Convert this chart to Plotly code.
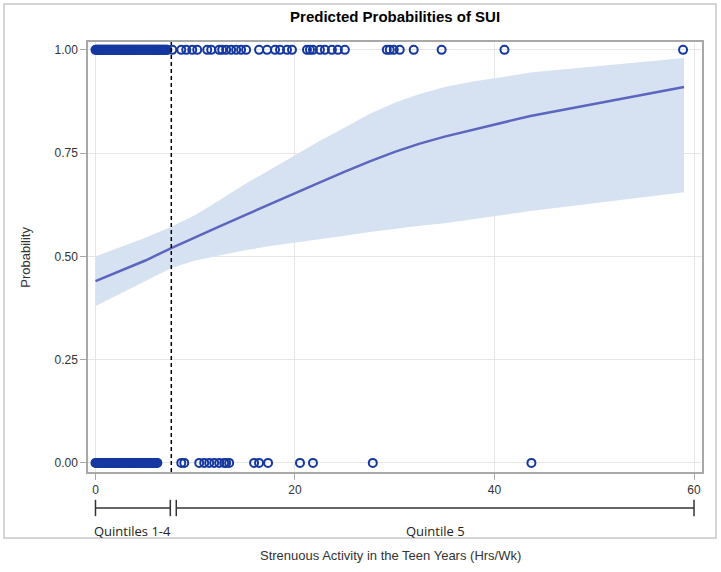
import plotly.graph_objects as go

# ---- data ----
curve_x = [0, 5, 7.6, 10, 12.5, 15, 17.5, 20, 22.5, 25, 27.5, 30, 32.5, 35, 38, 41, 43.6, 59]
curve_p = [0.44, 0.49, 0.52, 0.545, 0.573, 0.60, 0.627, 0.652, 0.679, 0.705, 0.730,
           0.753, 0.773, 0.79, 0.808, 0.825, 0.84, 0.91]
upper_p = [0.50, 0.545, 0.572, 0.60, 0.637, 0.675, 0.71, 0.745, 0.78, 0.812, 0.845,
           0.872, 0.893, 0.91, 0.924, 0.935, 0.945, 0.98]
lower_p = [0.38, 0.44, 0.472, 0.49, 0.503, 0.515, 0.525, 0.533, 0.542, 0.55, 0.559,
           0.567, 0.574, 0.58, 0.59, 0.60, 0.61, 0.655]

x_sui = [0, 0.1, 0.2, 0.3, 0.4, 0.5, 0.6, 0.7, 0.8, 0.9, 1.0, 1.1, 1.2, 1.3, 1.4, 1.5,
         1.6, 1.7, 1.8, 1.9, 2.0, 2.1, 2.2, 2.3, 2.4, 2.5, 2.6, 2.7, 2.8, 2.9, 3.0, 3.1,
         3.2, 3.3, 3.4, 3.5, 3.6, 3.7, 3.8, 3.9, 4.0, 4.1, 4.2, 4.3, 4.4, 4.5, 4.6, 4.7,
         4.8, 4.9, 5.0, 5.1, 5.2, 5.3, 5.4, 5.5, 5.6, 5.7, 5.8, 5.9, 6.0, 6.1, 6.2, 6.3,
         6.4, 6.5, 6.6, 6.7, 6.8, 6.9, 7.0, 7.1, 7.2,
         7.7, 8.6, 9.1, 9.7, 10.2, 11.2, 11.6, 12.4, 12.7, 13.1, 13.6, 14.1, 14.6, 15.1,
         16.4, 17.2, 18.0, 18.5, 19.2, 19.7, 21.2, 21.5, 21.8, 22.5, 23.0, 23.7, 24.3, 25.0,
         29.2, 29.5, 29.9, 30.5, 31.9, 34.7, 41.0, 58.9]
x_no_sui = [0, 0.1, 0.2, 0.3, 0.4, 0.5, 0.6, 0.7, 0.8, 0.9, 1.0, 1.1, 1.2, 1.3, 1.4, 1.5,
            1.6, 1.7, 1.8, 1.9, 2.0, 2.1, 2.2, 2.3, 2.4, 2.5, 2.6, 2.7, 2.8, 2.9, 3.0, 3.1,
            3.2, 3.3, 3.4, 3.5, 3.6, 3.7, 3.8, 3.9, 4.0, 4.1, 4.2, 4.3, 4.4, 4.5, 4.6, 4.7,
            4.8, 4.9, 5.0, 5.1, 5.2, 5.3, 5.4, 5.5, 5.6, 5.7, 5.8, 5.9, 6.0, 6.1, 6.2,
            8.6, 8.9, 10.4, 10.9, 11.4, 11.9, 12.4, 12.9, 13.1, 13.4,
            15.9, 16.4, 17.3, 20.5, 21.8, 27.8, 43.7]

quintile_cut = 7.6
quintile_left = [0, 7.5]
quintile_right = [8.1, 60]
quintile_labels = ["Quintiles 1-4", "Quintile 5"]
x_ticks = [0, 20, 40, 60]
y_ticks = [0.0, 0.25, 0.5, 0.75, 1.0]
y_tick_labels = ["0.00", "0.25", "0.50", "0.75", "1.00"]

MARK = "#1538a0"
fig = go.Figure()

fig.add_trace(go.Scatter(x=curve_x, y=lower_p, mode="lines", line=dict(width=0),
                         hoverinfo="skip", showlegend=False))
fig.add_trace(go.Scatter(x=curve_x, y=upper_p, mode="lines", line=dict(width=0),
                         fill="tonexty", fillcolor="rgb(214,226,242)",
                         hoverinfo="skip", showlegend=False))
fig.add_trace(go.Scatter(x=curve_x, y=curve_p, mode="lines",
                         line=dict(color="rgb(92,102,190)", width=2.5), showlegend=False))
fig.add_trace(go.Scatter(x=x_sui, y=[1.0] * len(x_sui), mode="markers",
                         marker=dict(symbol="circle-open", size=8, color=MARK,
                                     line=dict(width=2, color=MARK)),
                         showlegend=False, cliponaxis=False))
fig.add_trace(go.Scatter(x=x_no_sui, y=[0.0] * len(x_no_sui), mode="markers",
                         marker=dict(symbol="circle-open", size=8, color=MARK,
                                     line=dict(width=2, color=MARK)),
                         showlegend=False, cliponaxis=False))

shapes = []
# dashed reference line at quintile cut
shapes.append(dict(type="line", xref="x", yref="paper", x0=quintile_cut, x1=quintile_cut,
                   y0=0, y1=1, line=dict(color="black", width=1.5, dash="4px,3px")))
# bracket
BY, BT = -0.0837, 0.019
for seg in (quintile_left, quintile_right):
    shapes.append(dict(type="line", xref="x", yref="paper", x0=seg[0], x1=seg[1],
                       y0=BY, y1=BY, line=dict(color="#333", width=1.5)))
    for xv in seg:
        shapes.append(dict(type="line", xref="x", yref="paper", x0=xv, x1=xv,
                           y0=BY - BT, y1=BY + BT, line=dict(color="#333", width=1.5)))
# outer frame
shapes.append(dict(type="rect", xref="paper", yref="paper", x0=-0.1368, x1=1.0228,
                   y0=-0.1535, y1=1.0884, line=dict(color="#d4d4d4", width=2),
                   layer="below"))

annotations = [
    dict(text=quintile_labels[0], xref="x", yref="paper",
         x=(quintile_left[0] + quintile_left[1]) / 2, y=-0.137, showarrow=False,
         font=dict(family="Open Sans", size=13, color="#222"), yanchor="middle"),
    dict(text=quintile_labels[1], xref="x", yref="paper",
         x=(quintile_right[0] + quintile_right[1]) / 2, y=-0.137, showarrow=False,
         font=dict(family="Open Sans", size=13, color="#222"), yanchor="middle"),
    dict(text="Strenuous Activity in the Teen Years (Hrs/Wk)", xref="paper", yref="paper",
         x=0.492, y=-0.195, showarrow=False, yanchor="middle",
         font=dict(family="Liberation Sans", size=13, color="#333")),
    dict(text="Probability", xref="paper", yref="paper", x=-0.103, y=0.5,
         textangle=-90, showarrow=False, xanchor="center", yanchor="middle",
         font=dict(family="Liberation Sans", size=13, color="#333")),
]

fig.update_layout(
    width=721, height=572,
    margin=dict(l=88, r=19, t=42, b=100),
    paper_bgcolor="white", plot_bgcolor="white",
    title=dict(text="<b>Predicted Probabilities of SUI</b>", x=0.548, xanchor="center",
               y=0.970, yanchor="middle", yref="container",
               font=dict(family="Liberation Sans", size=15, color="black")),
    shapes=shapes, annotations=annotations,
    xaxis=dict(range=[-0.75, 60.8], tickvals=x_ticks, showgrid=True, gridcolor="#e6e6e6",
               zeroline=False, showline=True, mirror=True, linecolor="#a8a8a8", linewidth=1.5,
               ticks="outside", ticklen=6, tickcolor="#a8a8a8",
               tickfont=dict(family="Liberation Sans", size=12, color="#333")),
    yaxis=dict(range=[-0.022, 1.019], tickvals=y_ticks, ticktext=y_tick_labels,
               showgrid=True, gridcolor="#e6e6e6", zeroline=False, showline=True,
               mirror=True, linecolor="#a8a8a8", linewidth=1.5, ticks="outside",
               ticklen=6, tickcolor="#a8a8a8",
               tickfont=dict(family="Liberation Sans", size=12, color="#333")),
)

fig.write_html("out.html", config={"displayModeBar": False},
               post_script="document.body.style.margin='0';")
